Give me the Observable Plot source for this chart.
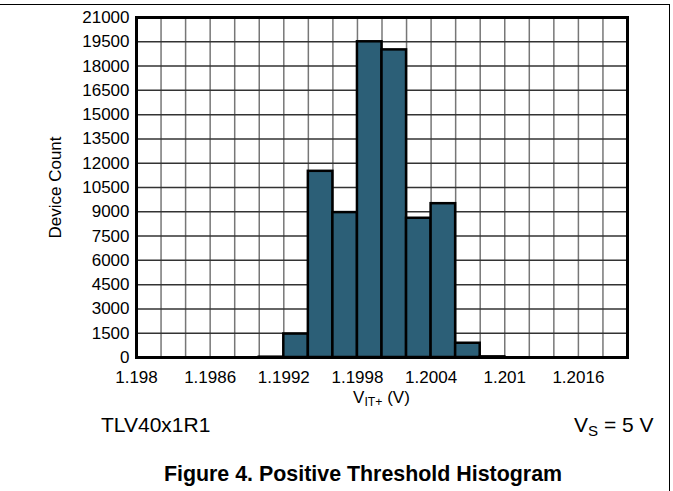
<!DOCTYPE html>
<html>
<head>
<meta charset="utf-8">
<script src="https://cdn.jsdelivr.net/npm/d3@7"></script>
<script src="https://cdn.jsdelivr.net/npm/@observablehq/plot@0.6"></script>
<style>
  html, body { margin: 0; padding: 0; background: #fff; }
  body { width: 673px; height: 491px; overflow: hidden; font-family: "Liberation Sans", Arial, sans-serif; }
  #wrap { position: relative; width: 673px; height: 491px; }
  #border { position: absolute; left: -2px; top: 4px; width: 672px; height: 500px; border-top: 1.5px solid #000; border-right: 1.5px solid #000; box-sizing: border-box; }
  .note { position: absolute; color: #000; white-space: nowrap; line-height: 1; }
  sub { font-size: 0.72em; vertical-align: -0.25em; line-height: 0; }
  #chart svg text { font-size: 17px; fill: #000; }
</style>
</head>
<body>
<div id="wrap">
  <div id="border"></div>
  <div id="chart" style="position:absolute;left:0;top:0;"></div>
  <div class="note" id="xlabel" style="left:0;width:763px;text-align:center;top:389px;font-size:17px;">V<sub>IT+</sub>&nbsp;(V)</div>
  <div class="note" style="left:101px;top:414px;font-size:21px;">TLV40x1R1</div>
  <div class="note" style="left:574px;top:414px;font-size:21px;">V<sub>S</sub> = 5 V</div>
  <div class="note" style="left:0;width:726px;text-align:center;top:464px;font-size:21.4px;font-weight:bold;">Figure 4. Positive Threshold Histogram</div>
</div>
<script>
// Histogram bins (V) and device counts
const binLo  = [1.1990, 1.1992, 1.1994, 1.1996, 1.1998, 1.2000, 1.2002, 1.2004, 1.2006, 1.2008];
const binHi  = [1.1992, 1.1994, 1.1996, 1.1998, 1.2000, 1.2002, 1.2004, 1.2006, 1.2008, 1.2010];
const counts = [20, 1450, 11500, 8950, 19500, 19000, 8600, 9500, 880, 40];

// Axis ticks
const xTicks = [1.198, 1.1986, 1.1992, 1.1998, 1.2004, 1.201, 1.2016];
const xTickLabels = ["1.198", "1.1986", "1.1992", "1.1998", "1.2004", "1.201", "1.2016"];
const xGrid = d3.range(0, 21).map(i => 1.198 + i * 0.0002);
const yTicks = d3.range(0, 21001, 1500);

const data = counts.map((c, i) => ({lo: binLo[i], hi: binHi[i], count: c}));

const chart = Plot.plot({
  width: 673,
  height: 491,
  marginLeft: 136,
  marginRight: 46,
  marginTop: 17,
  marginBottom: 134,
  style: {fontFamily: '"Liberation Sans", Arial, sans-serif', fontSize: "17px", color: "#000", background: "transparent"},
  x: {domain: [1.198, 1.202]},
  y: {domain: [0, 21000]},
  marks: [
    Plot.gridX(xGrid, {stroke: "#777", strokeOpacity: 1, strokeWidth: 1.5}),
    Plot.gridY(yTicks, {stroke: "#333", strokeOpacity: 1, strokeWidth: 1.5}),
    Plot.rectY(data, {x1: "lo", x2: "hi", y: "count", fill: "#2c5f77", stroke: "#000", strokeWidth: 2.5}),
    Plot.frame({stroke: "#000", strokeWidth: 3}),
    Plot.axisX(xTicks, {tickSize: 0, tickPadding: 13, fontSize: 17, label: null,
      tickFormat: d => xTickLabels[xTicks.indexOf(d)]}),
    Plot.axisY(yTicks, {tickSize: 0, tickPadding: 7, fontSize: 17, label: "Device Count",
      tickFormat: d => String(d),
      labelAnchor: "center", labelOffset: 88, labelArrow: "none"})
  ]
});
document.getElementById("chart").appendChild(chart);
</script>
</body>
</html>
